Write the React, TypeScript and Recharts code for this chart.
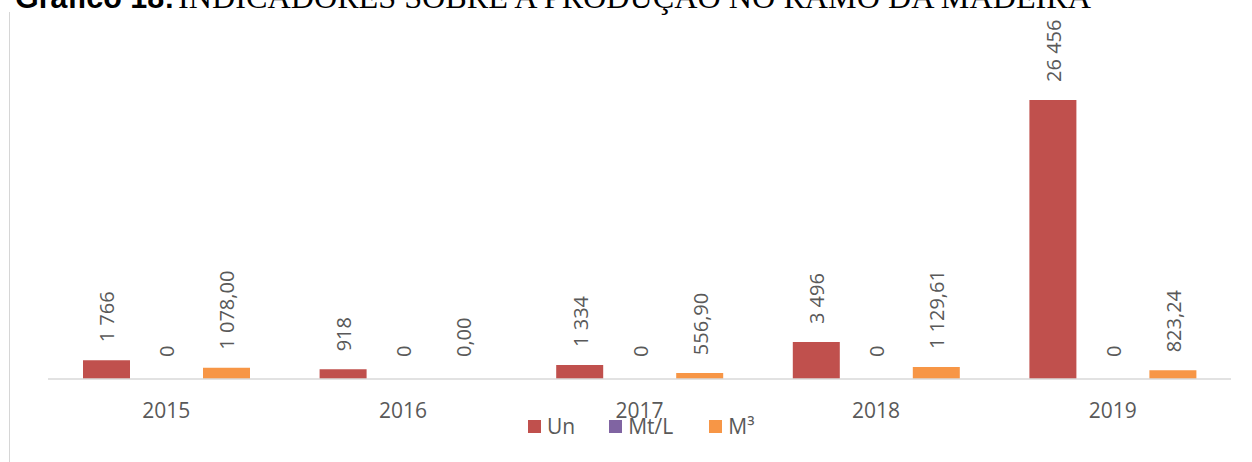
import React from 'react';
import { BarChart, Bar, XAxis, YAxis, Legend, LabelList } from 'recharts';

const years = ['2015', '2016', '2017', '2018', '2019'];
const unValues = [1766, 918, 1334, 3496, 26456];
const mtlValues = [0, 0, 0, 0, 0];
const m3Values = [1078.0, 0.0, 556.9, 1129.61, 823.24];

const seriesNames = ['Un', 'Mt/L', 'M³'];
const seriesColors = ['#C0504D', '#8064A2', '#F79646'];

const FONT = '"Open Sans", sans-serif';
const GRAY = '#595959';

const data = years.map((year, i) => ({
  year,
  Un: unValues[i],
  'Mt/L': mtlValues[i],
  'M³': m3Values[i],
}));

// pt-BR style numbers: space as thousands separator, comma for decimals
const groupThousands = (s: string) => s.replace(/\B(?=(\d{3})+(?!\d))/g, ' ');
const fmtInt = (v: number) => groupThousands(String(Math.round(v)));
const fmtDec = (v: number) => {
  const [int, dec] = v.toFixed(2).split('.');
  return `${groupThousands(int)},${dec}`;
};

const makeLabel = (fmt: (v: number) => string) => (props: any) => {
  const { x, y, width, value } = props;
  const cx = Number(x) + Number(width) / 2;
  const gap = Number(value) === 0 ? 22 : 18;
  const ay = Number(y) - gap;
  return (
    <text
      x={cx}
      y={ay}
      dy={8}
      transform={`rotate(-90 ${cx} ${ay})`}
      textAnchor="start"
      fill={GRAY}
      fontSize={20}
      fontFamily={FONT}
    >
      {fmt(Number(value))}
    </text>
  );
};

const LegendContent = () => (
  <div style={{ display: 'flex', alignItems: 'center', fontFamily: FONT, fontSize: 21, color: GRAY }}>
    {seriesNames.map((name, i) => (
      <div key={name} style={{ display: 'flex', alignItems: 'center', marginRight: i === 0 ? 34 : 36 }}>
        <span style={{ width: 13, height: 13, background: seriesColors[i], marginRight: 6, display: 'inline-block' }} />
        <span style={{ lineHeight: '16px' }}>{name}</span>
      </div>
    ))}
  </div>
);

// tiny min size so zero bars still get their "0" labels
const minSize = 0.001;

const App: React.FC = () => {
  return (
    <div style={{ position: 'fixed', left: 0, top: 0, width: 1252, height: 462, background: '#fff', overflow: 'hidden' }}>
      <div style={{ position: 'absolute', left: 9, top: 12, width: 1, height: 460, background: '#d6d6d6' }} />
      <svg width={1252} height={30} style={{ position: 'absolute', left: 0, top: 0 }}>
        <text x={15} y={8} fontFamily='"Liberation Sans", Arial, sans-serif' fontWeight="bold" fontSize={30.5} fill="#000">
          Gráfico 18:
        </text>
        <text x={178} y={8} fontFamily='"Liberation Serif", "Times New Roman", serif' fontSize={32.2} fill="#000">
          INDICADORES SOBRE A PRODUÇÃO NO RAMO DA MADEIRA
        </text>
      </svg>
      <div style={{ position: 'absolute', left: 0, top: 0 }}>
        <BarChart
          width={1252}
          height={462}
          data={data}
          margin={{ top: 62.5, right: 21, bottom: 43, left: 48 }}
          barCategoryGap={35}
          barGap={13}
        >
          <XAxis
            dataKey="year"
            height={40}
            axisLine={{ stroke: '#d9d9d9', strokeWidth: 1.5 }}
            tickLine={false}
            tickSize={0}
            tickMargin={24}
            tick={{ fill: GRAY, fontSize: 21, fontFamily: FONT }}
          />
          <YAxis hide domain={[0, 30000]} />
          <Legend
            verticalAlign="middle"
            layout="horizontal"
            wrapperStyle={{ top: 418, left: 528 }}
            content={<LegendContent />}
          />
          <Bar dataKey="Un" fill={seriesColors[0]} minPointSize={minSize} isAnimationActive={false}>
            <LabelList dataKey="Un" content={makeLabel(fmtInt)} />
          </Bar>
          <Bar dataKey="Mt/L" fill={seriesColors[1]} minPointSize={minSize} isAnimationActive={false}>
            <LabelList dataKey="Mt/L" content={makeLabel(fmtInt)} />
          </Bar>
          <Bar dataKey="M³" fill={seriesColors[2]} minPointSize={minSize} isAnimationActive={false}>
            <LabelList dataKey="M³" content={makeLabel(fmtDec)} />
          </Bar>
        </BarChart>
      </div>
    </div>
  );
};

export default App;
